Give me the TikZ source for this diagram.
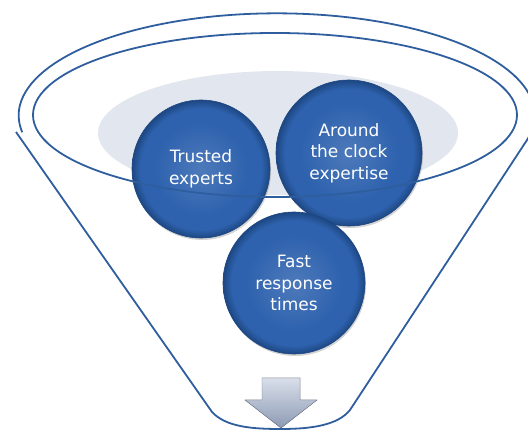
\documentclass[tikz,border=0pt]{standalone}
\usepackage{fontspec}
\setmainfont{DejaVu Sans}
\usetikzlibrary{shadows}

\definecolor{funnelblue}{HTML}{2F5E9E}
\definecolor{ballblue}{HTML}{2E62AE}
\definecolor{balldark}{HTML}{1D4782}
\definecolor{haze}{HTML}{E2E6EE}
\definecolor{arrowtop}{HTML}{D9DFEA}
\definecolor{arrowbot}{HTML}{8D9AB4}
\pgfdeclareradialshading{ballrim}{\pgfpoint{0bp}{0bp}}{color(0bp)=(ballblue!85!white); color(17bp)=(ballblue); color(22bp)=(ballblue); color(25bp)=(balldark); color(50bp)=(balldark)}

\begin{document}
\begin{tikzpicture}[x=1pt,y=-1pt,
    ball/.style={circle,shading=ballrim,draw=balldark,line width=0.6pt,inner sep=0pt,
        drop shadow={opacity=0.35,shadow xshift=1pt,shadow yshift=-2pt},
        text=white,align=center,font=\fontsize{17}{21.5}\selectfont},
    rim/.style={draw=funnelblue,line width=1.8pt,line join=round}]
    \path[use as bounding box] (0,0) rectangle (528,430);
    \clip (0,0) rectangle (528,430);
    %grey haze behind the balls
    \fill[haze] (278,133) ellipse [x radius=180,y radius=62];
    %the three balls
    \node[ball,minimum size=138pt] (trusted) at (201,169) {Trusted\\experts};
    \node[ball,minimum size=146pt] (clock) at (349,153) {Around\\the clock\\expertise};
    \node[ball,minimum size=142pt] (fast) at (294,283) {Fast\\response\\times};
    %funnel mouth and body
    \draw[rim] (275,115) ellipse [x radius=242,y radius=82];
    \draw[rim] (16,132) -- (212,412) .. controls (226,427) and (252,429) .. (281,429)
        .. controls (312,429) and (338,425) .. (350,410) -- (527,140)
        arc[start angle=374,end angle=170.4,x radius=258,y radius=102];
    %outlet arrow
    \fill[top color=arrowtop,bottom color=arrowbot,draw=arrowbot!80!black,line width=0.4pt]
        (262,378) -- (300,378) -- (300,400) -- (317,400) -- (281,428)
        -- (245,400) -- (262,400) -- cycle;
\end{tikzpicture}
\end{document}
